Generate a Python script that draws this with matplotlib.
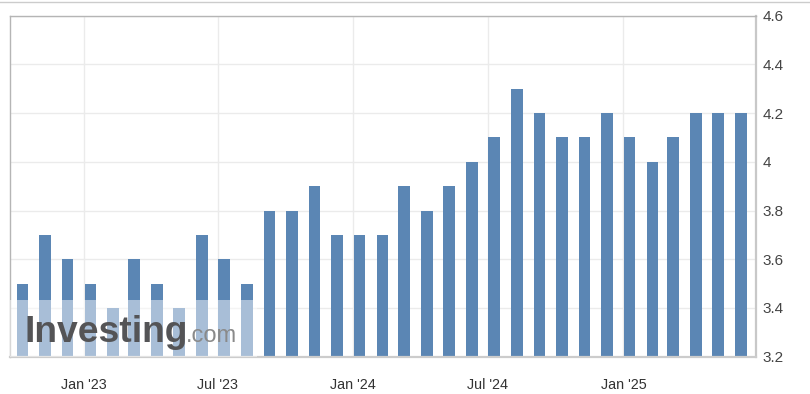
import matplotlib
matplotlib.use("Agg")
import matplotlib.pyplot as plt
import matplotlib.dates as mdates
import matplotlib.transforms as mtransforms
from matplotlib.patches import Rectangle
from matplotlib.lines import Line2D
from matplotlib.ticker import FuncFormatter
import pandas as pd

# ---- data ----
months = ["2022-10", "2022-11", "2022-12", "2023-01", "2023-02", "2023-03",
          "2023-04", "2023-05", "2023-06", "2023-07", "2023-08", "2023-09",
          "2023-10", "2023-11", "2023-12", "2024-01", "2024-02", "2024-03",
          "2024-04", "2024-05", "2024-06", "2024-07", "2024-08", "2024-09",
          "2024-10", "2024-11", "2024-12", "2025-01", "2025-02", "2025-03",
          "2025-04", "2025-05", "2025-06"]
values = [3.5, 3.7, 3.6, 3.5, 3.4, 3.6, 3.5, 3.4, 3.7, 3.6, 3.5, 3.8,
          3.8, 3.9, 3.7, 3.7, 3.7, 3.9, 3.8, 3.9, 4.0, 4.1, 4.3, 4.2,
          4.1, 4.1, 4.2, 4.1, 4.0, 4.1, 4.2, 4.2, 4.2]
tick_dates = ["2023-01-01", "2023-07-01", "2024-01-01", "2024-07-01", "2025-01-01"]
tick_labels = ["Jan '23", "Jul '23", "Jan '24", "Jul '24", "Jan '25"]
y_ticks = [3.2, 3.4, 3.6, 3.8, 4.0, 4.2, 4.4, 4.6]

plt.rcParams['font.family'] = ['Liberation Sans', 'DejaVu Sans']

fig = plt.figure(figsize=(8.10, 3.94), dpi=100)
ax = fig.add_axes([9.5 / 810, (394 - 356.7) / 394, 746 / 810, 341 / 394])

x = pd.to_datetime(months) + pd.Timedelta(days=8.5)
bar_color = "#5b86b4"
ax.bar(x, values, width=15.7, color=bar_color, bottom=0, zorder=2)

ax.set_ylim(3.2, 4.6)
ax.set_xlim(pd.Timestamp("2022-09-22"), pd.Timestamp("2025-06-29"))

ax.set_yticks(y_ticks)
ax.yaxis.set_major_formatter(FuncFormatter(lambda v, p: f"{v:g}"))
ax.yaxis.tick_right()
ax.set_xticks(pd.to_datetime(tick_dates))
ax.set_xticklabels(tick_labels)

ax.tick_params(axis='y', length=0, pad=5, labelsize=11, labelcolor="#444444")
ax.tick_params(axis='x', length=0, pad=15, labelsize=10.4, labelcolor="#333333")

ax.grid(True, color="#ebebeb", linewidth=1, zorder=0)
ax.set_axisbelow(True)

for side in ["left", "top"]:
    ax.spines[side].set_color("#b5b5b5")
    ax.spines[side].set_linewidth(1)
ax.spines["right"].set_color("#c8c8c8")
ax.spines["right"].set_linewidth(1.6)
ax.spines["bottom"].set_color("#cccccc")
ax.spines["bottom"].set_linewidth(1.6)

# watermark overlay (semi-transparent white) + logo text
trans = mtransforms.blended_transform_factory(ax.transAxes, ax.transData)
ax.add_patch(Rectangle((0, 3.2), 0.332, 0.233, transform=trans,
                       facecolor="white", alpha=0.47, edgecolor="none", zorder=3))
ax.text(0.0205, 0.044, "Investing", transform=ax.transAxes, fontsize=26.8,
        fontweight="bold", color="#545456", va="baseline", ha="left", zorder=4)
ax.text(0.2366, 0.044, ".com", transform=ax.transAxes, fontsize=17,
        color="#8a8a8a", va="baseline", ha="left", zorder=4)

# top page border line
fig.add_artist(Line2D([0, 1], [1 - 2 / 394, 1 - 2 / 394], transform=fig.transFigure,
                      color="#cccccc", linewidth=1))

fig.savefig("out.png", dpi=100, facecolor="white")
